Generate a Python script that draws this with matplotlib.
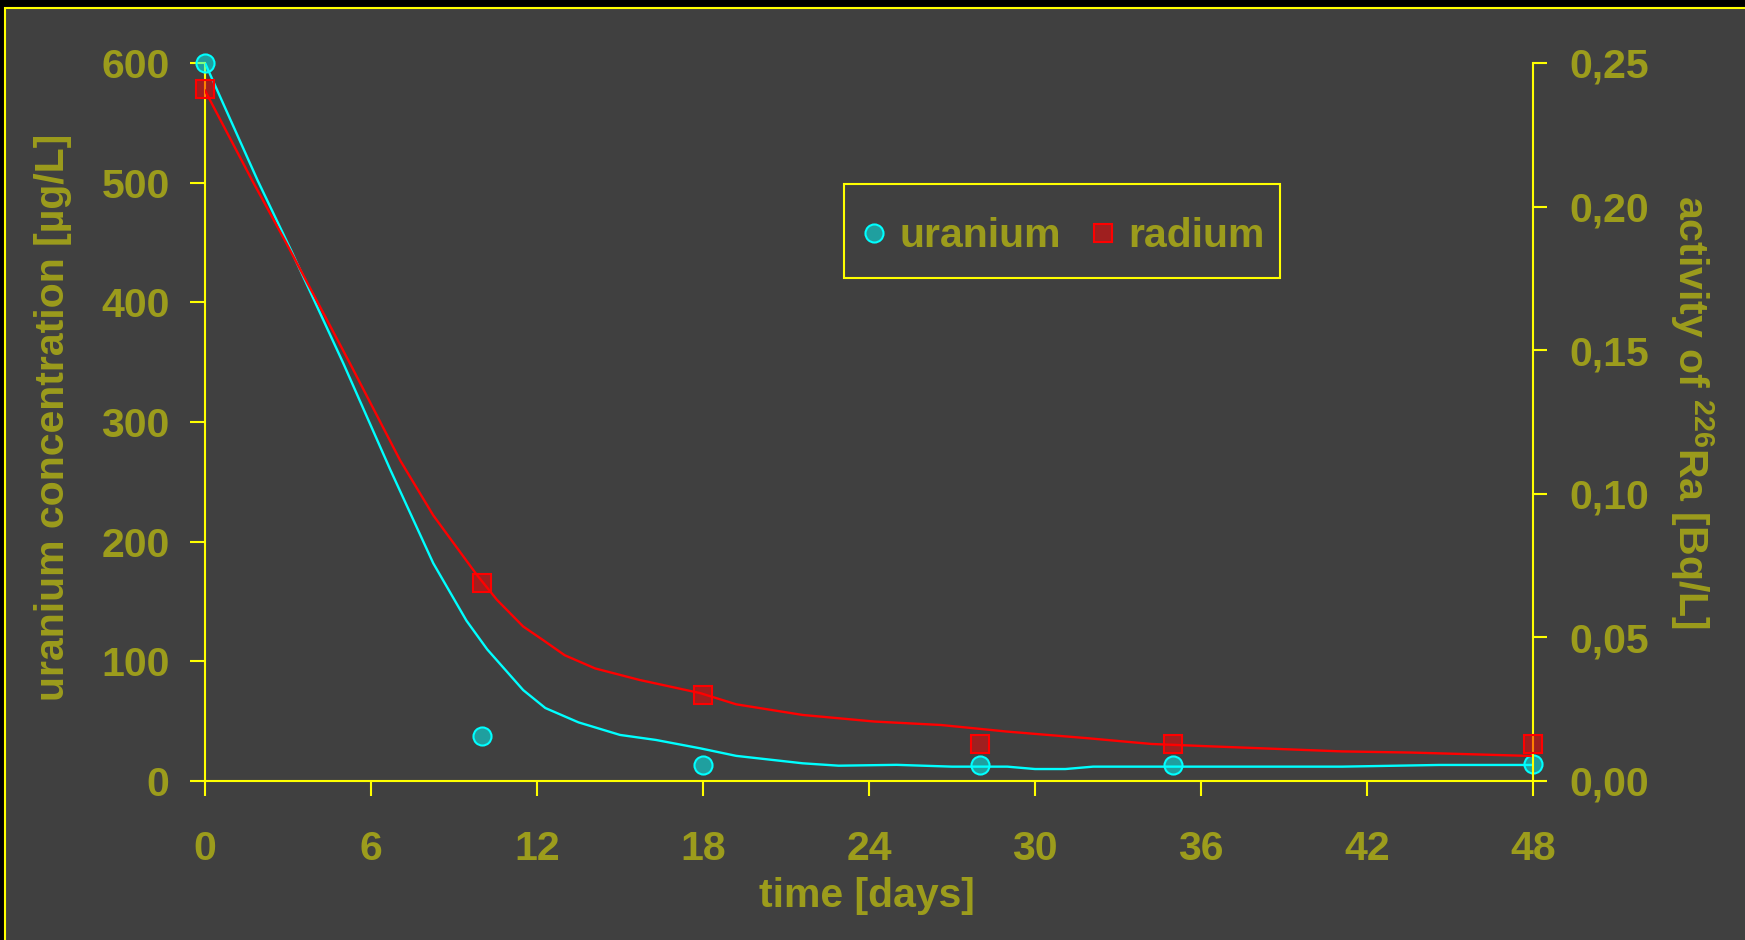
"""Uranium and radium removal over time, dual axis chart."""

import matplotlib
matplotlib.use("Agg")
import matplotlib.pyplot as plt
from matplotlib.patches import Rectangle
from matplotlib.lines import Line2D

# measured points
days = [0, 10, 18, 28, 35, 48]
uranium = [600, 38, 13, 13, 13, 14]           # ug/L
radium = [0.241, 0.069, 0.030, 0.013, 0.013, 0.013]  # Bq/L

# fitted curves
uranium_fit_days = [0, 1.9, 3.1, 5.0, 6.7, 8.25, 9.45, 10.2, 11.5, 12.3, 13.5,
                    15.0, 16.3, 17.9, 19.2, 21.6, 22.9, 25.0, 27.0, 29.0, 30.0,
                    31.1, 32.1, 41.1, 44.6, 48]
uranium_fit = [600, 502, 444, 349, 260, 182, 134, 110, 76, 61, 49,
               38.5, 34.3, 27.3, 21, 14.8, 12.8, 13.5, 12, 12, 10,
               10, 12, 12, 13.4, 13.4]

radium_fit_days = [0, 1.7, 2.95, 5.24, 7.05, 8.25, 9.8, 10.55, 11.5, 12.2, 13.0,
                   14.1, 15.7, 17.9, 19.2, 21.6, 24.2, 26.6, 29.0, 31.9, 34.2,
                   36.0, 41.1, 43.6, 48]
radium_fit = [0.2404, 0.2092, 0.1871, 0.1454, 0.1117, 0.0925, 0.0721, 0.0631,
              0.0538, 0.0492, 0.0438, 0.0392, 0.0352, 0.0306, 0.0267, 0.0230,
              0.0207, 0.0195, 0.0172, 0.0149, 0.0129, 0.0122, 0.0103, 0.0099,
              0.0087]

x_ticks = [0, 6, 12, 18, 24, 30, 36, 42, 48]
left_ticks = [0, 100, 200, 300, 400, 500, 600]
right_ticks = [0.0, 0.05, 0.10, 0.15, 0.20, 0.25]
right_tick_labels = ["0,00", "0,05", "0,10", "0,15", "0,20", "0,25"]

BG = "#404040"
TEXT = "#9c9c1c"
AXIS = "#ffff00"
FS = 29.5

plt.rcParams["font.family"] = ["Liberation Sans", "DejaVu Sans"]
plt.rcParams["font.weight"] = "bold"

fig = plt.figure(figsize=(17.45, 9.40), dpi=100, facecolor="black")
fig.patches.append(Rectangle((5 / 1745, -0.1), 1.1, 1.1 - 8 / 940,
                             transform=fig.transFigure, facecolor=BG,
                             edgecolor=AXIS, linewidth=1.5, zorder=-5))
# legend frame
fig.patches.append(Rectangle((843.6 / 1745, 1 - 278.2 / 940), 436.2 / 1745,
                             94.6 / 940, transform=fig.transFigure,
                             facecolor="none", edgecolor=AXIS, linewidth=1.5,
                             zorder=6))

ax = fig.add_axes([205 / 1745, 1 - 781 / 940, 1328 / 1745, 718 / 940])
ax.set_facecolor("none")
ax2 = ax.twinx()
ax2.set_facecolor("none")

ax.plot(uranium_fit_days, uranium_fit, color="#00ffff", lw=1.7, zorder=3)
ax.plot(days, uranium, "o", ms=13, mfc=(0, 1, 1, 0.5), mec="#00ffff",
        mew=1.5, clip_on=False, zorder=5)
ax2.plot(radium_fit_days, radium_fit, color="#ff0000", lw=1.7, zorder=2)
ax2.plot(days, radium, "s", ms=13, mfc=(1, 0, 0, 0.5), mec="#ff0000",
         mew=1.5, clip_on=False, zorder=5)

ax.set_xlim(0, 48)
ax.set_ylim(0, 600)
ax2.set_ylim(0, 0.25)

ax.set_xticks(x_ticks)
ax.set_yticks(left_ticks)
ax2.set_yticks(right_ticks)
ax2.set_yticklabels(right_tick_labels)

for a in (ax, ax2):
    for side in ("top", "left", "right", "bottom"):
        a.spines[side].set_visible(False)
ax.spines["left"].set_visible(True)
ax.spines["bottom"].set_visible(True)
ax2.spines["right"].set_visible(True)
for s in (ax.spines["left"], ax.spines["bottom"], ax2.spines["right"]):
    s.set_color(AXIS)
    s.set_linewidth(1.5)

ax.tick_params(axis="x", colors=AXIS, labelcolor=TEXT, length=10.5, width=1.5,
               labelsize=FS, pad=25)
ax.tick_params(axis="y", colors=AXIS, labelcolor=TEXT, length=10.5, width=1.5,
               labelsize=FS, pad=15)
ax2.tick_params(axis="y", colors=AXIS, labelcolor=TEXT, length=10, width=1.5,
                labelsize=FS, pad=16)
for lbl in ax.get_xticklabels() + ax.get_yticklabels() + ax2.get_yticklabels():
    lbl.set_fontweight("bold")

fig.text(867 / 1745, 1 - 896 / 940, "time [days]", color=TEXT, fontsize=FS,
         fontweight="bold", ha="center", va="center")
fig.text(53 / 1745, 1 - 417 / 940, "uranium concentration [µg/L]", color=TEXT,
         fontsize=FS, fontweight="bold", ha="center", va="center", rotation=90)
fig.text(1692 / 1745, 1 - 412 / 940,
         r"activity of $\mathregular{^{226}}$Ra [Bq/L]", color=TEXT,
         fontsize=FS, fontweight="bold", ha="center", va="center", rotation=270)

handles = [
    Line2D([], [], ls="none", marker="o", ms=13, mfc=(0, 1, 1, 0.5),
           mec="#00ffff", mew=1.5),
    Line2D([], [], ls="none", marker="s", ms=13, mfc=(1, 0, 0, 0.5),
           mec="#ff0000", mew=1.5),
]
leg = fig.legend(handles, ["uranium", "radium"], ncol=2, loc="center left",
                 bbox_to_anchor=(861.7 / 1745, 1 - 236 / 940),
                 bbox_transform=fig.transFigure, borderaxespad=0,
                 prop={"size": FS, "weight": "bold"}, labelcolor=TEXT,
                 frameon=False, handlelength=0.6, handletextpad=0.32,
                 columnspacing=0.73, borderpad=0, numpoints=1)

fig.savefig("out.png", dpi=100, facecolor=fig.get_facecolor())
